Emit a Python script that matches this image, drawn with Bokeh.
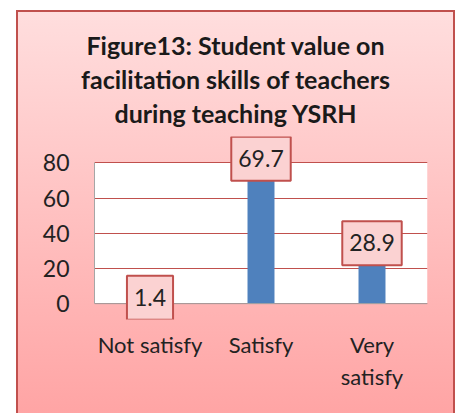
from bokeh.plotting import figure
from bokeh.layouts import column
from bokeh.models import (BoxAnnotation, Label, ColumnDataSource, FactorRange, Range1d,
                          FixedTicker, Span, Div)
from bokeh.embed import file_html
from bokeh.resources import INLINE

# ---- data ----
categories = ["Not satisfy", "Satisfy", "Very\nsatisfy"]
values = [1.4, 69.7, 28.9]
value_texts = ["1.4", "69.7", "28.9"]
y_ticks = [0, 20, 40, 60, 80]
title_lines = ["Figure13: Student value on",
               "facilitation skills of teachers",
               "during teaching YSRH"]

# ---- style / placement ----
label_dy = [2.0, 12.6, 5.4]   # vertical placement of value boxes (data units above bar top)
FONT = "Lato"
RED = "#c0504d"
BLUE = "#4f81bd"
LAYOUT_W = 455
CHART_X, CHART_Y, CHART_W = 16, 10, 439   # pink chart box inside the layout
TITLE_H = 136
FIG_H = 277

title_html = (
    '<div style="margin-left:%dpx; width:%dpx; padding-top:28px; font-family:Lato; '
    'font-weight:bold; font-size:25px; line-height:34px; text-align:center; '
    'color:#1a1a1a;">%s</div>'
    % (CHART_X, CHART_W, "<br>".join(title_lines))
)
title_div = Div(text=title_html, width=LAYOUT_W, height=TITLE_H, margin=0)

p = figure(width=LAYOUT_W, height=FIG_H,
           x_range=FactorRange(*categories, range_padding=0),
           y_range=Range1d(-9, 95),
           output_backend="svg", toolbar_location=None,
           min_border_left=94, min_border_right=28,
           min_border_top=0, min_border_bottom=94, margin=0)

p.background_fill_color = None
p.border_fill_color = None
p.outline_line_color = None

# white plot area (0..80)
p.add_layout(BoxAnnotation(bottom=0, top=80, fill_color="white", fill_alpha=1,
                           line_color=None, level="image"))

src = ColumnDataSource(dict(cat=categories, val=values))
p.vbar(x="cat", top="val", width=0.243, source=src, fill_color=BLUE, line_color=None)

# y axis
p.yaxis.ticker = FixedTicker(ticks=y_ticks)
p.yaxis.bounds = (0, 80)
p.yaxis.major_tick_line_color = None
p.yaxis.minor_tick_line_color = None
p.yaxis.major_tick_out = 0
p.yaxis.axis_line_color = "#a6a6a6"
p.yaxis.major_label_standoff = 25
p.yaxis.major_label_text_font = FONT
p.yaxis.major_label_text_font_size = "23px"
p.yaxis.major_label_text_color = "#222222"

# x axis (labels); the axis line itself sits at value 0
p.xaxis.major_tick_line_color = None
p.xaxis.major_tick_out = 0
p.xaxis.axis_line_color = None
p.xaxis.major_label_standoff = 11
p.xaxis.major_label_text_font = FONT
p.xaxis.major_label_text_font_size = "22px"
p.xaxis.major_label_text_color = "#222222"
p.add_layout(Span(location=0, dimension="width", line_color="#a6a6a6", line_width=1))

p.xgrid.grid_line_color = None
p.ygrid.ticker = FixedTicker(ticks=y_ticks)
p.ygrid.grid_line_color = RED
p.ygrid.grid_line_width = 1

# value labels with boxes and shadows (x in the factor range's synthetic coordinates)
pad = dict(left=7, right=7, top=13, bottom=14)
for i, (v, txt, dy) in enumerate(zip(values, value_texts, label_dy)):
    xc = i + 0.5
    p.add_layout(Label(x=xc, y=v + dy, text=txt, x_offset=3, y_offset=-3,
                       text_align="center", text_baseline="middle",
                       text_font=FONT, text_font_size="23px", text_alpha=0,
                       padding=pad, background_fill_color="#000000",
                       background_fill_alpha=0.18))
    p.add_layout(Label(x=xc, y=v + dy, text=txt,
                       text_align="center", text_baseline="middle",
                       text_font=FONT, text_font_size="23px", text_color="#222222",
                       padding=pad, background_fill_color="#fbd2d2",
                       border_line_color=RED, border_line_width=2))

solid = "linear-gradient(%s, %s)" % (RED, RED)
bg = ", ".join([
    "%s %dpx %dpx / 2px 100%% no-repeat" % (solid, CHART_X, CHART_Y),
    "%s %dpx %dpx / 2px 100%% no-repeat" % (solid, CHART_X + CHART_W - 2, CHART_Y),
    "%s %dpx %dpx / %dpx 2px no-repeat" % (solid, CHART_X, CHART_Y, CHART_W),
    "linear-gradient(to bottom, #ffdede, #ffa3a3) %dpx %dpx / %dpx 100%% no-repeat"
    % (CHART_X, CHART_Y, CHART_W),
])
layout = column(title_div, p, spacing=0, styles={"background": bg})

open("out.html", "w").write(file_html(layout, INLINE))
